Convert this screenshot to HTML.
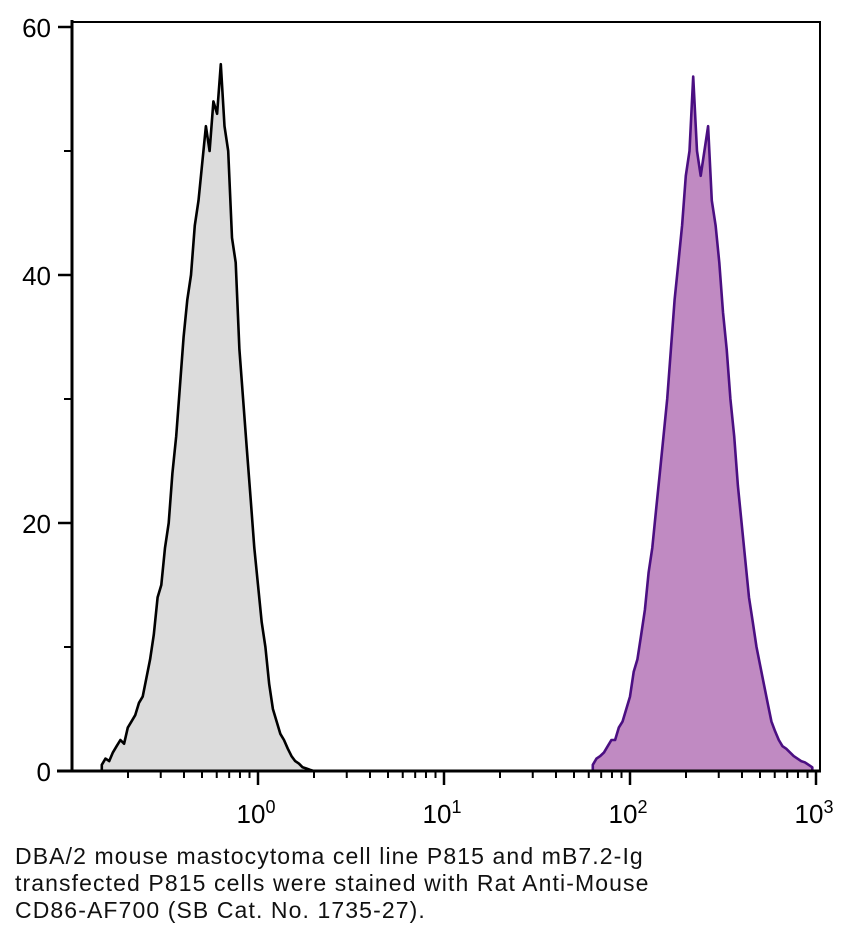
<!DOCTYPE html>
<html><head><meta charset="utf-8"><style>
body{margin:0;background:#fff;width:849px;height:945px;overflow:hidden;font-family:"Liberation Sans",sans-serif}
#cap{position:absolute;left:15px;top:843px;font-size:23px;line-height:27px;color:#111;letter-spacing:1.1px;white-space:nowrap}
</style></head><body>
<svg id="chart" width="849" height="840" style="position:absolute;left:0;top:0">
<g id="marks"></g><g id="axes"></g>
</svg>
<div id="cap">DBA/2 mouse mastocytoma cell line P815 and mB7.2-Ig<br>transfected P815 cells were stained with Rat Anti-Mouse<br>CD86-AF700 (SB Cat. No. 1735-27).</div>
<script>
const grayStartLog=-0.84, purpleStartLog=1.80, binStep=0.02;
const grayCounts=[0.5,1,0.8,1.5,2,2.5,2.2,3.5,4,4.5,5.5,6,7.5,9,11,14,15,18,20,24,27,31,35,38,40,44,46,49,52,50,54,53,57,52,50,43,41,34,30,26,22,18,15,12,10,7,5,4,3,2.5,1.8,1.2,0.8,0.6,0.3,0.2,0.1,0,0,0];
const purpleCounts=[0.5,1,1.2,1.5,2,2.5,2.5,3.5,4,5,6,8,9,11,13,16,18,21,24,27,30,34,38,41,44,48,50,56,50,48,50,52,46,44,41,37,34,30,27,23,20,17,14,12,10,8.5,7,5.5,4,3.2,2.5,2,1.8,1.5,1.2,1,0.8,0.7,0.5,0.3];
const yTicks=[0,20,40,60];
const yMinor=[10,30,50];
const xDecades=[0,1,2,3];
const NS="http://www.w3.org/2000/svg";
const X0=72,DEC=186,Y0=771,YS=(771-27)/60;
function xs(l){return X0+DEC*(l+1);}
function ys(v){return Y0-v*YS;}
function mk(t,a,p){const e=document.createElementNS(NS,t);for(const k in a)e.setAttribute(k,a[k]);p.appendChild(e);return e;}
const marks=document.getElementById('marks'),axes=document.getElementById('axes');
function hist(counts,start,fill,stroke,name){
  let d='M'+xs(start).toFixed(1)+','+Y0;
  counts.forEach((c,i)=>{d+=' L'+xs(start+i*binStep).toFixed(1)+','+ys(c).toFixed(1);});
  d+=' L'+xs(start+(counts.length-1)*binStep).toFixed(1)+','+Y0+' Z';
  const p=mk('path',{d:d,fill:fill,stroke:stroke,'stroke-width':2.6,'stroke-linejoin':'round'},marks);
  
  
}
hist(grayCounts,grayStartLog,'#dcdcdc','#000','unstained-histogram');
hist(purpleCounts,purpleStartLog,'#c08ac2','#4b0f82','cd86-histogram');
const fr=mk('rect',{x:X0,y:22,width:820-X0,height:Y0-22,fill:'none',stroke:'#000','stroke-width':2},axes);

const xl=mk('line',{x1:57,y1:Y0,x2:821,y2:Y0,stroke:'#000','stroke-width':3},axes);

const yl=mk('line',{x1:X0,y1:20,x2:X0,y2:Y0,stroke:'#000','stroke-width':3},axes);

yTicks.forEach(v=>{
  mk('line',{x1:58,y1:ys(v),x2:X0,y2:ys(v),stroke:'#000','stroke-width':2.5},axes);
  const t=mk('text',{x:51,y:ys(v)+10,'text-anchor':'end','font-size':26,fill:'#000'},axes);
  t.textContent=v;
  
});
yMinor.forEach(v=>mk('line',{x1:64,y1:ys(v),x2:X0,y2:ys(v),stroke:'#000','stroke-width':2},axes));
for(let dcd=-1;dcd<3;dcd++){for(let m=2;m<=9;m++){const x=xs(dcd+Math.log10(m));mk('line',{x1:x,y1:Y0,x2:x,y2:Y0+7,stroke:'#000','stroke-width':2},axes);}}
xDecades.forEach(d=>{
  const x=xs(d);
  mk('line',{x1:x,y1:Y0,x2:x,y2:Y0+14,stroke:'#000','stroke-width':2.5},axes);
  const t=mk('text',{x:x-2,y:Y0+52,'text-anchor':'middle','font-size':26,fill:'#000'},axes);
  t.textContent='10';
  const s=mk('tspan',{dy:-10,'font-size':18},t);s.textContent=d;
  
});
</script>
</body></html>
